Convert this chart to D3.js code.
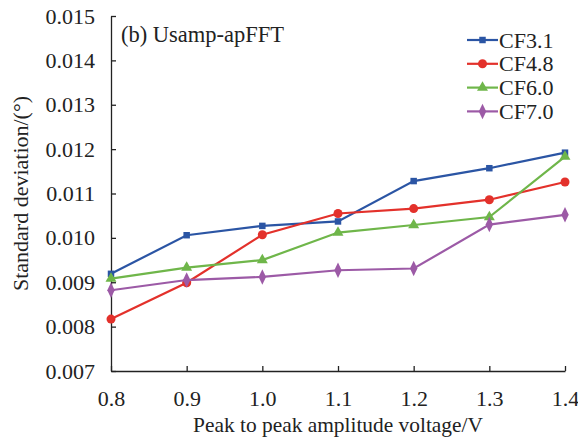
<!DOCTYPE html>
<html>
<head>
<meta charset="utf-8">
<script src="https://cdn.jsdelivr.net/npm/d3@7/dist/d3.min.js"></script>
<style>
html,body{margin:0;padding:0;background:#fff;}
svg{display:block;font-family:"Liberation Serif","Times New Roman",serif;}
</style>
</head>
<body>
<svg id="chart" width="578" height="437"></svg>
<script>
const xValues = [0.8, 0.9, 1.0, 1.1, 1.2, 1.3, 1.4];
const cf31 = [0.00919, 0.01006, 0.01027, 0.01037, 0.01128, 0.01157, 0.01192];
const cf48 = [0.00817, 0.00899, 0.01007, 0.01055, 0.01066, 0.01086, 0.01126];
const cf60 = [0.00908, 0.00933, 0.00950, 0.01012, 0.01029, 0.01047, 0.01183];
const cf70 = [0.00882, 0.00905, 0.00912, 0.00927, 0.00931, 0.01030, 0.01052];
const seriesNames = ["CF3.1", "CF4.8", "CF6.0", "CF7.0"];
const yTicks = [0.007, 0.008, 0.009, 0.010, 0.011, 0.012, 0.013, 0.014, 0.015];
const title = "(b) Usamp-apFFT";
const xLabel = "Peak to peak amplitude voltage/V";
const yLabel = "Standard deviation/(°)";

const series = [
  {name: seriesNames[0], values: cf31, color: "#2b55a4", symbol: d3.symbolSquare, size: 42},
  {name: seriesNames[1], values: cf48, color: "#e3312b", symbol: d3.symbolCircle, size: 64},
  {name: seriesNames[2], values: cf60, color: "#6fb64a", symbol: d3.symbolTriangle, size: 52},
  {name: seriesNames[3], values: cf70, color: "#9c5aa6", symbol: d3.symbolDiamond, size: 48}
];

const FS = "22px";
const svg = d3.select("#chart");
const m = {left: 111, right: 13, top: 16, bottom: 66};
const W = 578, H = 437;
const x = d3.scaleLinear().domain([0.8, 1.4]).range([m.left, W - m.right]);
const y = d3.scaleLinear().domain([0.007, 0.015]).range([H - m.bottom, m.top]);

// axes
const xAxis = svg.append("g").attr("transform", `translate(0,${y(0.007)})`)
  .call(d3.axisBottom(x).tickValues(xValues).tickFormat(d3.format(".1f")).tickSizeInner(-5).tickSizeOuter(0).tickPadding(19));
const yAxis = svg.append("g").attr("transform", `translate(${x(0.8)},0)`)
  .call(d3.axisLeft(y).tickValues(yTicks).tickFormat(d3.format(".3f")).tickSizeInner(-5).tickSizeOuter(0).tickPadding(16));
[xAxis, yAxis].forEach(g => {
  g.select(".domain").attr("stroke", "#222").attr("stroke-width", 1.3);
  g.selectAll(".tick line").attr("stroke", "#222").attr("stroke-width", 1.3);
  g.selectAll(".tick text").attr("fill", "#222").style("font-size", FS).style("font-family", "'Liberation Serif', serif");
});

// axis titles
svg.append("text").attr("x", (x(0.8) + x(1.4)) / 2).attr("y", 432)
  .attr("text-anchor", "middle").attr("fill", "#222").style("font-size", "21.4px").text(xLabel);
svg.append("text").attr("transform", `translate(28,${(y(0.007)+y(0.015))/2}) rotate(-90)`)
  .attr("text-anchor", "middle").attr("fill", "#222").style("font-size", FS).text(yLabel);

// title
svg.append("text").attr("x", 121).attr("y", 42).attr("fill", "#222").style("font-size", "22.5px").text(title);

// lines and markers
const line = d3.line().x((d, i) => x(xValues[i])).y(d => y(d));
series.forEach(s => {
  svg.append("path").datum(s.values).attr("d", line)
    .attr("fill", "none").attr("stroke", s.color).attr("stroke-width", 2.2);
  svg.selectAll(null).data(s.values).enter().append("path")
    .attr("d", d3.symbol().type(s.symbol).size(s.size))
    .attr("transform", (d, i) => `translate(${x(xValues[i])},${y(d)})${s.symbol === d3.symbolDiamond ? " scale(1,1.2)" : ""}`)
    .attr("fill", s.color);
});

// legend
const leg = svg.append("g");
series.forEach((s, i) => {
  const ly = 40 + i * 23.8;
  leg.append("line").attr("x1", 467).attr("x2", 498).attr("y1", ly).attr("y2", ly)
    .attr("stroke", s.color).attr("stroke-width", 2.2);
  leg.append("path").attr("d", d3.symbol().type(s.symbol).size(s.size))
    .attr("transform", `translate(482.5,${ly})${s.symbol === d3.symbolDiamond ? " scale(1,1.2)" : ""}`).attr("fill", s.color);
  leg.append("text").attr("x", 499).attr("y", ly + 7.5).attr("fill", "#222")
    .style("font-size", FS).text(s.name);
});
</script>
</body>
</html>
